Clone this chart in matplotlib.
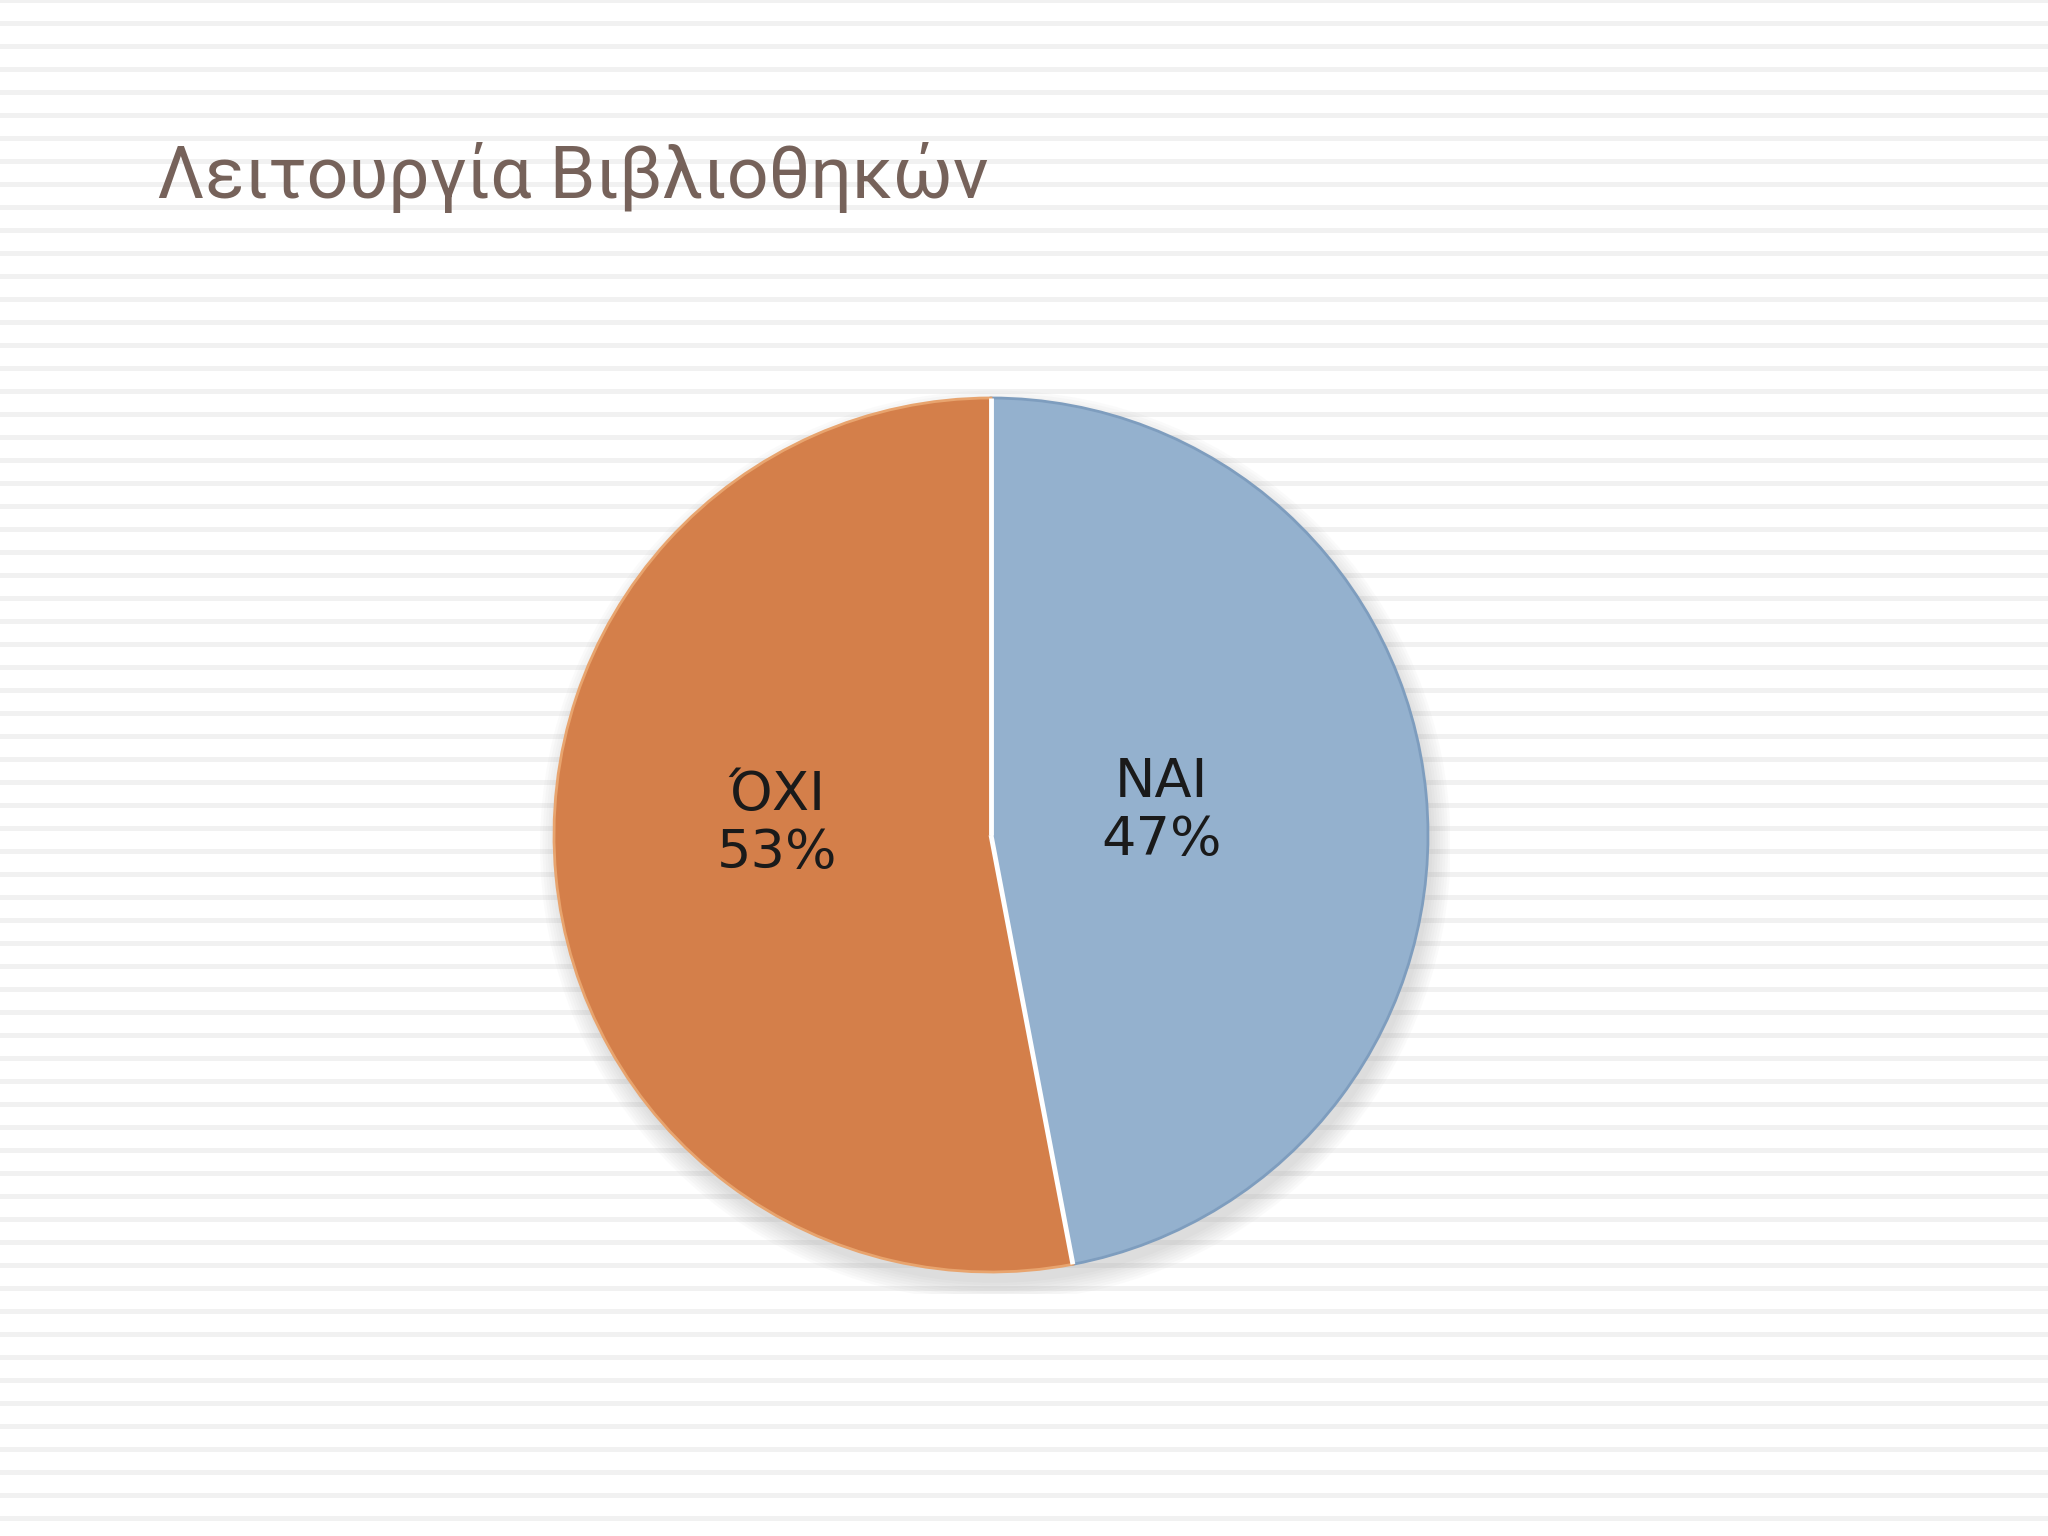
import numpy as np
import matplotlib
matplotlib.use("Agg")
from matplotlib import pyplot as plt
from matplotlib.patches import Ellipse

# Chart data
title_text = "Λειτουργία Βιβλιοθηκών"
categories = ["NAI", "ΌΧΙ"]
shares = [47, 53]
colors = ["#94B1CE", "#D47F4A"]
rim_colors = ["#7E9DBE", "#E8A46E"]

W, H = 2048, 1536
fig = plt.figure(figsize=(W / 100, H / 100), dpi=100)
fig.patch.set_facecolor("white")

# striped slide background
bg = fig.add_axes([0, 0, 1, 1])
bg.set_xlim(0, W)
bg.set_ylim(H, 0)
bg.axis("off")
for y in np.arange(0, H + 23, 23.0):
    bg.axhspan(y - 2.5, y + 2.5, color="#f1f1f1", lw=0)

# title, sized so it spans the same width as in the slide
title = fig.text(157 / W, 1 - 198 / H, title_text, fontsize=62, color="#76625A",
                 family=["Roboto", "DejaVu Sans"], ha="left", va="baseline")
renderer = fig.canvas.get_renderer()
tw = title.get_window_extent(renderer).width
title.set_fontsize(62 * 832 / tw)

# pie axes
cx, cy, r = 991, 835, 437
ax = fig.add_axes([(cx - r) / W, 1 - (cy + r) / H, 2 * r / W, 2 * r / H])
ax.set_aspect("equal")
ax.axis("off")

# soft shadow under the pie
for i in range(8):
    ax.add_patch(Ellipse((0.01, -0.025), 2.0 + 0.012 * i, 2.0 + 0.012 * i,
                         color="#888888", alpha=0.035, lw=0, zorder=0))

wedges, texts = ax.pie(shares, colors=colors, startangle=90, counterclock=False,
                       radius=1.0, labels=[f"{c}\n{v}%" for c, v in zip(categories, shares)],
                       labeldistance=0.42,
                       wedgeprops=dict(linewidth=2),
                       textprops=dict(fontsize=39, color="#1a1a1a", ha="center", va="center",
                                      linespacing=1.15))
for w, rc in zip(wedges, rim_colors):
    w.set_edgecolor(rc)

# white separators between the slices
for w in wedges:
    t = np.deg2rad(w.theta1)
    ax.plot([0, np.cos(t)], [0, np.sin(t)], color="white", lw=3.5, zorder=5,
            solid_capstyle="butt")

ax.set_xlim(-1.05, 1.05)
ax.set_ylim(-1.05, 1.05)
ax.set_position([(cx - 1.05 * r) / W, 1 - (cy + 1.05 * r) / H, 2.1 * r / W, 2.1 * r / H])

texts[0].set_position((0.39, 0.055))
texts[1].set_position((-0.49, 0.025))

fig.savefig("out.png", dpi=100)
